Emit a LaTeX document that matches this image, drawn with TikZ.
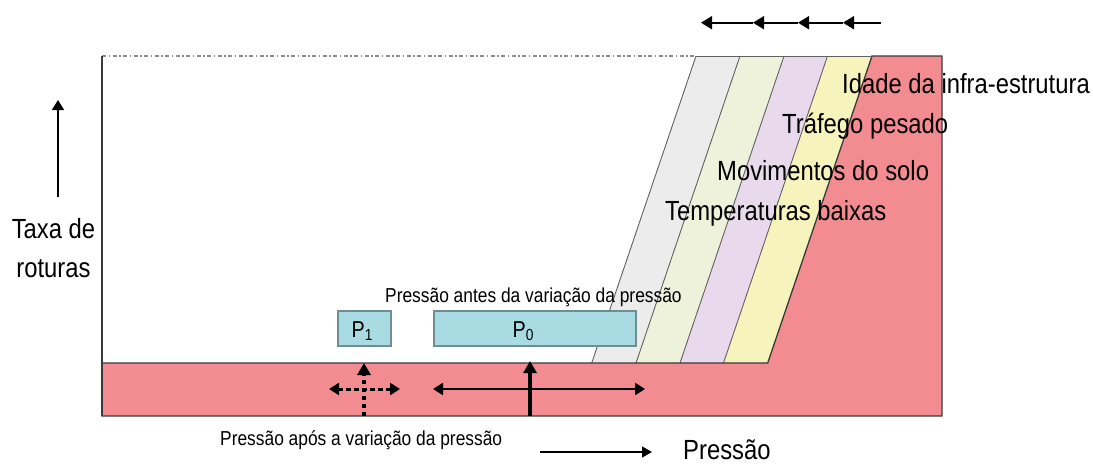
\documentclass[tikz,border=0pt]{standalone}
\usepackage{fontspec}
\setmainfont{Liberation Sans}[FakeStretch=0.86]
\usetikzlibrary{arrows.meta}
\definecolor{redf}{HTML}{F38C90}
\definecolor{stripeA}{HTML}{ECECEC}
\definecolor{stripeB}{HTML}{EEF2DA}
\definecolor{stripeC}{HTML}{E8DAEC}
\definecolor{stripeD}{HTML}{F7F3BD}
\definecolor{boxf}{HTML}{A8DCE2}
\definecolor{boxd}{HTML}{6E8E92}
\definecolor{edge}{HTML}{3A3A3A}
\tikzset{
  big/.style={inner sep=0pt, anchor=base west, font=\fontsize{27.7}{33}\selectfont},
  mid/.style={inner sep=0pt, anchor=base west, font=\fontsize{20.2}{24}\selectfont},
  pbox/.style={draw=boxd, fill=boxf, line width=1.2pt},
  tri/.style={-{Triangle[length=11pt,width=13pt]}},
  tribi/.style={{Triangle[length=10pt,width=12pt]}-{Triangle[length=10pt,width=12pt]}},
  dotline/.style={dash pattern=on 4.5pt off 3.5pt}
}
\begin{document}
\begin{tikzpicture}[x=1pt,y=-1pt]
\useasboundingbox (0,0) rectangle (1093,464);

% stripes
\fill[stripeA] (696,56) -- (740,56) -- (636,363) -- (591.7,363) -- cycle;
\fill[stripeB] (740,56) -- (784,56) -- (680,363) -- (636,363) -- cycle;
\fill[stripeC] (784,56) -- (827.5,56) -- (723.5,363) -- (680,363) -- cycle;
\fill[stripeD] (827.5,56) -- (872,56) -- (767.7,363) -- (723.5,363) -- cycle;
\foreach \t/\b in {696/591.7,740/636,784/680,827.5/723.5}
  \draw[edge!80, line width=0.9pt] (\t,56) -- (\b,363);

% red region
\draw[edge, fill=redf, line width=1.3pt]
  (102,363) -- (767.7,363) -- (872,56) -- (942,56) -- (942,416) -- (102,416) -- cycle;

% top line
\draw[gray!90, line width=1.3pt, dash pattern=on 4pt off 2.5pt on 1.5pt off 2.5pt] (102,56) -- (696,56);
\draw[edge!80, line width=1pt] (696,56) -- (872,56);
% left axis line
\draw[edge, line width=1.3pt] (102,56) -- (102,416);

% boxes
\node[pbox, minimum width=53pt, minimum height=35pt, inner sep=0pt] (p1) at (364.5,328.5) {};
\node[pbox, minimum width=202pt, minimum height=35pt, inner sep=0pt] (p0) at (535,328.5) {};
\node[inner sep=0pt, anchor=base, font=\fontsize{23}{26}\selectfont] (p1t) at (362,337.5)
  {P\raisebox{-2.5pt}{\fontsize{16}{16}\selectfont 1}};
\node[inner sep=0pt, anchor=base, font=\fontsize{23}{26}\selectfont] (p0t) at (523,337.5)
  {P\raisebox{-2.5pt}{\fontsize{16}{16}\selectfont 0}};

% labels
\node[big] (l1) at (842,93.3) {Idade da infra-estrutura};
\node[big] (l2) at (782,133) {Tráfego pesado};
\node[big] (l3) at (717,180) {Movimentos do solo};
\node[big] (l4) at (665,220) {Temperaturas baixas};
\node[big, anchor=base] (y1) at (53.5,238) {Taxa de};
\node[big, anchor=base] (y2) at (53.5,277) {roturas};
\node[mid] (ant) at (385,302) {Pressão antes da variação da pressão};
\node[mid] (apo) at (220,445) {Pressão após a variação da pressão};
\node[big] (px) at (683,459) {Pressão};

% coordinates for arrows
\coordinate (ua0) at (58,197);
\coordinate (ua1) at (58,100);
\coordinate (ra0) at (540,452);
\coordinate (ra1) at (652,452);
\coordinate (t0) at (881,22.7);
\coordinate (t1) at (843,22.7);
\coordinate (t2) at (798,22.7);
\coordinate (t3) at (753,22.7);
\coordinate (t4) at (701,22.7);
\coordinate (sv0) at (530,416);
\coordinate (sv1) at (530,361);
\coordinate (sh0) at (433,389);
\coordinate (sh1) at (645,389);
\coordinate (dv0) at (364,416);
\coordinate (dv1) at (364,363);
\coordinate (dh0) at (329,389);
\coordinate (dh1) at (400,389);

% axis arrows
\draw[-{Triangle[length=10pt,width=12pt]}, line width=1.6pt] (ua0) -- (ua1);
\draw[-{Triangle[length=10pt,width=11pt]}, line width=1.6pt] (ra0) -- (ra1);
% top arrows
\draw[line width=1.8pt, tri] (t0) -- (t1);
\draw[line width=1.8pt, tri] (t1) -- (t2);
\draw[line width=1.8pt, tri] (t2) -- (t3);
\draw[line width=1.8pt, tri] (t3) -- (t4);

% solid cross
\draw[line width=3.2pt, -{Triangle[length=12pt,width=13pt]}] (sv0) -- (sv1);
\draw[line width=2.6pt, tribi] (sh0) -- (sh1);
% dotted cross
\draw[line width=3.4pt, dotline, -{Triangle[length=12pt,width=13pt]}] (dv0) -- (dv1);
\draw[line width=3pt, dotline, tribi] (dh0) -- (dh1);
\end{tikzpicture}
\end{document}
